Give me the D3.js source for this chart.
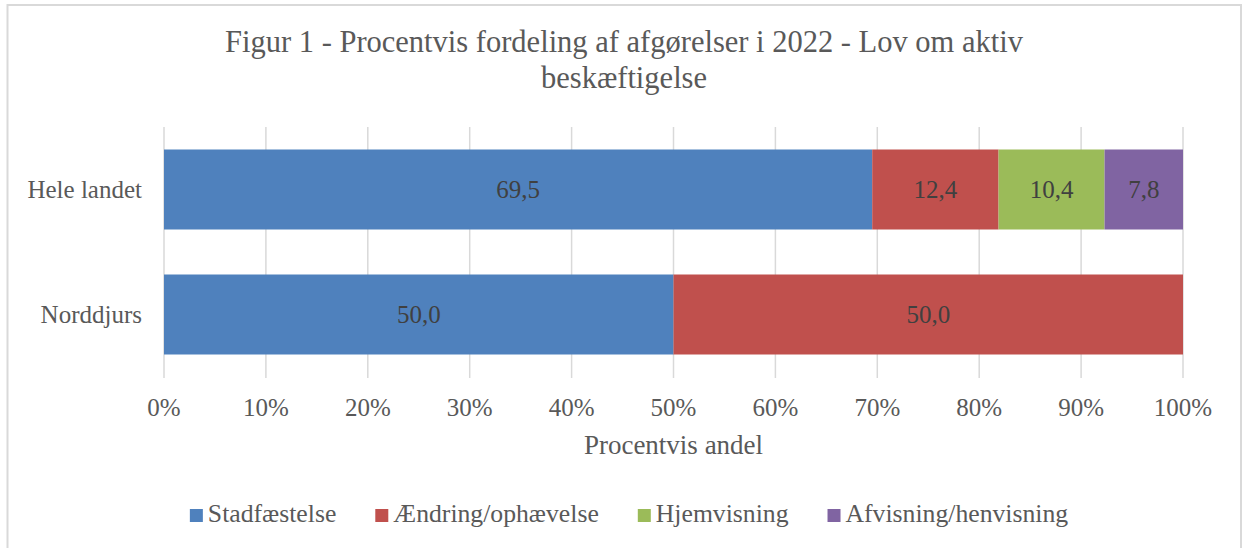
<!DOCTYPE html>
<html><head><meta charset="utf-8">
<script src="https://cdn.jsdelivr.net/npm/d3@7"></script>
<style>html,body{margin:0;padding:0;background:#fff;}svg{display:block;}</style>
</head><body>
<svg id="chart" width="1243" height="548"></svg>
<script>
const titleLines = ["Figur 1 - Procentvis fordeling af afgørelser i 2022 - Lov om aktiv", "beskæftigelse"];
const categories = ["Hele landet", "Norddjurs"];
const seriesNames = ["Stadfæstelse", "Ændring/ophævelse", "Hjemvisning", "Afvisning/henvisning"];
const stadfaestelse = [69.5, 50.0];
const aendring = [12.4, 50.0];
const hjemvisning = [10.4, 0];
const afvisning = [7.8, 0];
const colors = ["#4F81BD", "#C0504D", "#9BBB59", "#8064A2"];
const tickValues = [0, 10, 20, 30, 40, 50, 60, 70, 80, 90, 100];
const axisTitle = "Procentvis andel";

const FONT = "'Liberation Serif', 'DejaVu Serif', serif";
const svg = d3.select("#chart");
svg.append("rect").attr("width", 1243).attr("height", 548).attr("fill", "#fff");
svg.append("rect").attr("x", 7.5).attr("y", 5).attr("width", 1233.5).attr("height", 600)
  .attr("fill", "none").attr("stroke", "#d9d9d9").attr("stroke-width", 2);

const x = d3.scaleLinear().domain([0, 100]).range([164, 1183]).clamp(true);
const y = d3.scaleBand().domain(categories).range([127, 377]).paddingInner(0.36).paddingOuter(0.18);

// title
svg.append("text").attr("x", 624).attr("y", 52).attr("text-anchor", "middle")
  .attr("font-family", FONT).attr("font-size", 30.5).attr("fill", "#595959")
  .selectAll("tspan").data(titleLines).join("tspan")
  .attr("x", 624).attr("dy", (d, i) => i === 0 ? 0 : 36).text(d => d);

// gridlines
svg.append("g").selectAll("line").data(tickValues).join("line")
  .attr("x1", d => x(d)).attr("x2", d => x(d)).attr("y1", 127).attr("y2", 378)
  .attr("stroke", "#d9d9d9").attr("stroke-width", 1.5);

// stacked data
const rows = categories.map((c, i) => ({cat: c, vals: [stadfaestelse[i], aendring[i], hjemvisning[i], afvisning[i]]}));
const segs = [];
rows.forEach(r => {
  let acc = 0;
  r.vals.forEach((v, k) => {
    segs.push({cat: r.cat, k, v, x0: acc, x1: acc + v});
    acc += v;
  });
});
const drawn = segs.filter(s => s.v > 0);
svg.append("g").selectAll("rect").data(drawn).join("rect")
  .attr("x", d => x(d.x0)).attr("width", d => x(d.x1) - x(d.x0))
  .attr("y", d => y(d.cat)).attr("height", y.bandwidth())
  .attr("fill", d => colors[d.k]);

const fmt = v => d3.format(".1f")(v).replace(".", ",");
svg.append("g").selectAll("text").data(drawn).join("text")
  .attr("x", d => (x(d.x0) + x(d.x1)) / 2).attr("y", d => y(d.cat) + y.bandwidth() / 2 + 8)
  .attr("text-anchor", "middle").attr("font-family", FONT).attr("font-size", 25)
  .attr("fill", "#404040").text(d => fmt(d.v));

// category labels
svg.append("g").selectAll("text").data(categories).join("text")
  .attr("x", 142).attr("y", d => y(d) + y.bandwidth() / 2 + 8)
  .attr("text-anchor", "end").attr("font-family", FONT).attr("font-size", 25)
  .attr("fill", "#595959").text(d => d);

// x tick labels
svg.append("g").selectAll("text").data(tickValues).join("text")
  .attr("x", d => x(d)).attr("y", 416).attr("text-anchor", "middle")
  .attr("font-family", FONT).attr("font-size", 25).attr("fill", "#595959")
  .text(d => d + "%");

svg.append("text").attr("x", 673.5).attr("y", 454).attr("text-anchor", "middle")
  .attr("font-family", FONT).attr("font-size", 27).attr("fill", "#595959").text(axisTitle);

// legend
const lg = svg.append("g");
const items = lg.selectAll("g").data(seriesNames).join("g");
items.append("rect").attr("width", 13).attr("height", 13).attr("y", 509).attr("fill", (d, i) => colors[i]);
items.append("text").attr("x", 18).attr("y", 522).attr("font-family", FONT).attr("font-size", 25.7)
  .attr("fill", "#595959").text(d => d);
let cx = 0;
const offs = [];
items.each(function(d, i) {
  const w = d3.select(this).select("text").node().getComputedTextLength();
  offs.push(cx);
  cx += 18 + w + (i < seriesNames.length - 1 ? 39 : 0);
});
const start = 629 - cx / 2;
items.attr("transform", (d, i) => `translate(${start + offs[i]},0)`);
</script>
</body></html>
